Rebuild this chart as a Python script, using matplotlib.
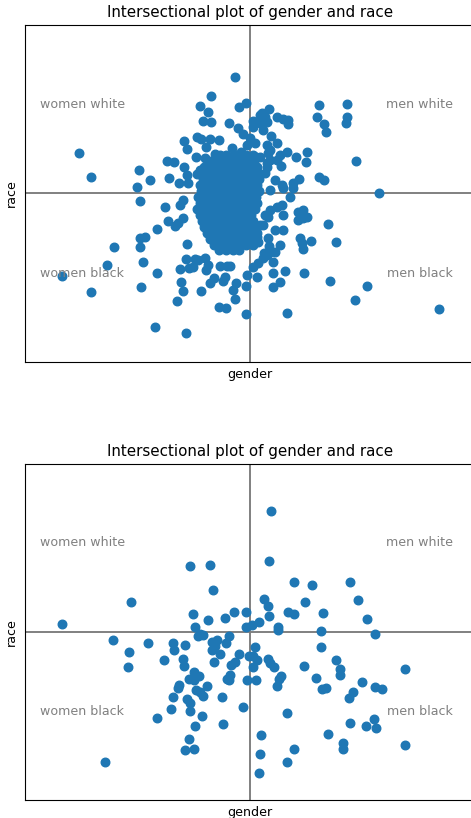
import numpy as np
import matplotlib.pyplot as plt

# first sample: (gender score, race score)
outer_1 = [
    (-15, 116), (-39, 97), (-50, 87), (-42, 81), (-47, 72), (-39, 71), (-21, 70),
    (-11, 86), (-4, 90), (-12, 65), (-7, 59), (-171, 40), (-159, 16), (-111, 23),
    (-100, 13), (-113, 6), (-83, 32), (-76, 31), (-66, 26), (-81, 15), (-66, 52),
    (-63, 44), (-53, 56), (-49, 54), (-44, 46), (-40, 54), (-31, 53), (-18, 45),
    (-9, 41), (-54, 36), (-45, 35), (-35, 39), (-63, 18), (-53, 19), (-71, 10),
    (-50, 23), (-62, 10), (-3, 48), (0, 55),
    (69, 88), (97, 89), (67, 76), (74, 69), (76, 61), (97, 76), (96, 70), (106, 32),
    (69, 16), (74, 13), (129, 0), (19, 84), (12, 80), (15, 76), (13, 71), (27, 76),
    (33, 74), (38, 73), (38, 69), (3, 72), (10, 78), (10, 70), (17, 71), (13, 63),
    (21, 57), (27, 50), (20, 43), (17, 48), (37, 41), (46, 36), (57, 41), (56, 31),
    (31, 27), (27, 33), (18, 40), (30, 38), (20, 33), (17, 26), (10, 36), (49, 14),
    (43, 10), (43, 5), (33, 5), (25, 13), (20, 3), (32, 8), (7, 26), (5, 50),
    (6, 36), (3, 66), (15, 20), (17, 30),
    (-110, -8), (-85, -14), (-82, -28), (-75, -33), (-72, -30), (-67, -25),
    (-93, -36), (-70, -12), (-67, -7), (-110, -45), (-105, -44), (-110, -54),
    (-136, -54), (-143, -72), (-188, -83), (-159, -99), (-107, -69), (-93, -80),
    (-109, -94), (-69, -89), (-67, -98), (-73, -108), (-95, -134), (-64, -140),
    (-70, -76), (-61, -75), (-57, -74), (-64, -66), (-55, -66), (-63, -51),
    (-49, -98), (-44, -77), (-42, -72), (-40, -90), (-36, -85), (-30, -73),
    (-23, -73), (-20, -73), (-25, -84), (-27, -88), (-14, -90), (-17, -97),
    (-15, -106), (-31, -114), (-24, -115), (-4, -93), (-4, -121), (-3, -82),
    (-52, -67), (-45, -65),
    (7, -84), (3, -74), (8, -70), (13, -65), (17, -62), (20, -59), (25, -59),
    (23, -69), (23, -80), (35, -78), (30, -89), (23, -94), (54, -80), (80, -88),
    (37, -120), (78, -31), (86, -49), (61, -48), (50, -45), (52, -50), (53, -56),
    (48, -27), (57, -24), (53, -17), (48, -19), (53, -25), (40, -4), (18, -45),
    (30, -52), (25, -37), (33, -37), (10, -32), (15, -22), (20, -17), (27, -14),
    (32, -12), (33, -22), (7, -44), (3, -52), (8, -49), (117, -93), (105, -107),
    (189, -116), (19, -53), (14, -60), (18, -24), (13, -32), (5, -47), (3, -30),
    (7, -40),
]

# dense core of the first sample, row by row (race score: gender scores)
core_rows_1 = {
    38: [-30, -24, -16, -10, -4, 3],
    32: [-40, -34, -27, -21, -14, -8, -2, 4],
    26: [-46, -40, -33, -27, -20, -14, -7, -1, 5],
    20: [-48, -42, -36, -29, -23, -16, -10, -4, 2, 8],
    14: [-47, -41, -35, -28, -22, -15, -9, -3, 3, 9],
    8: [-50, -44, -37, -31, -24, -18, -11, -5, 1, 7],
    2: [-49, -43, -36, -30, -23, -17, -10, -4, 2, 9],
    -4: [-52, -45, -39, -32, -26, -19, -13, -6, 0, 6],
    -10: [-50, -44, -37, -31, -24, -18, -11, -5, 1, 7],
    -16: [-53, -46, -40, -33, -27, -20, -14, -7, -1, 5],
    -22: [-50, -44, -37, -31, -24, -18, -11, -5, 1],
    -28: [-48, -42, -35, -29, -22, -16, -9, -3, 3],
    -34: [-46, -39, -33, -26, -20, -13, -7, -1, 4],
    -40: [-43, -37, -30, -24, -17, -11, -5, 1],
    -46: [-40, -34, -27, -21, -14, -8, -2],
    -52: [-36, -29, -23, -16, -10, -4],
    -57: [-31, -24, -17, -11],
}

# second sample
points_2 = [
    (21, 121), (19, 71), (-60, 66), (-40, 67), (-37, 42), (-119, 30), (-188, 8),
    (-57, 18), (-55, 5), (-42, 12), (-25, 14), (-16, 20), (-4, 20), (-4, 5),
    (2, 7), (9, 10), (19, 16), (18, 26), (14, 33), (28, 5), (38, 20), (44, 18),
    (44, 50), (62, 47), (55, 30), (73, 19), (71, 1), (100, 50), (108, 32),
    (117, 13), (125, -2), (-50, -2), (-21, -4), (-52, -4), (-47, -3), (28, 2),
    (-137, -8), (-121, -20), (-122, -35), (-102, -11), (-86, -28), (-77, -11),
    (-76, -18), (-65, -13), (-67, -27), (-66, -34), (-56, -40), (-51, -44),
    (-61, -47), (-56, -48), (-71, -53), (-72, -56), (-43, -54), (-54, -58),
    (-50, -60), (-47, -64), (-77, -65), (-63, -67), (-60, -71), (-79, -77),
    (-60, -79), (-93, -86), (-48, -84), (-55, -94), (-28, -65), (-27, -92),
    (-7, -75), (-61, -107), (-65, -118), (-56, -117), (-145, -130),
    (-38, -10), (-35, -14), (-38, -18), (-33, -8), (-24, -11), (-30, -22),
    (-36, -30), (-19, -33), (-15, -30), (-11, -22), (-20, -43), (-23, -47),
    (-21, -48), (-3, -48), (-1, -24), (3, -24), (7, -28), (3, -35), (5, -15),
    (6, -48), (18, -27), (20, -31), (24, -35), (31, -44), (29, -47), (27, -54),
    (54, -34), (66, -46), (71, -15), (86, -28), (90, -37), (90, -43), (72, -57),
    (76, -56), (103, -60), (99, -66), (112, -50), (125, -55), (132, -57),
    (155, -37), (37, -81), (11, -103), (10, -122), (9, -141), (44, -117),
    (37, -130), (78, -102), (93, -111), (93, -117), (100, -91), (116, -94),
    (124, -87), (126, -96), (155, -113),
]

pts_1 = list(outer_1)
for y, xs in core_rows_1.items():
    for x in xs:
        pts_1.append((x, y))
pts_1 = np.array(pts_1, dtype=float)
pts_2 = np.array(points_2, dtype=float)

quadrants = [("women white", 0.033, 0.765, "left"),
             ("men white", 0.951, 0.765, "right"),
             ("women black", 0.033, 0.264, "left"),
             ("men black", 0.951, 0.264, "right")]

fig = plt.figure(figsize=(4.71, 8.18), dpi=100)
ax1 = fig.add_axes([25 / 471, 456 / 818, 450 / 471, 337 / 818])
ax2 = fig.add_axes([25 / 471, 18 / 818, 450 / 471, 336 / 818])

for ax, pts, ylim in [(ax1, pts_1, (-169, 168)), (ax2, pts_2, (-168, 168))]:
    ax.scatter(pts[:, 0], pts[:, 1], s=38, color="#1f77b4", zorder=3)
    ax.axhline(0, color="gray", lw=1.4, zorder=1)
    ax.axvline(0, color="gray", lw=1.4, zorder=1)
    ax.set_xlim(-225, 225)
    ax.set_ylim(*ylim)
    ax.set_xticks([])
    ax.set_yticks([])
    ax.set_xlabel("gender", fontsize=9.1, labelpad=4)
    ax.set_ylabel("race", fontsize=9.1, labelpad=5)
    ax.set_title("Intersectional plot of gender and race", fontsize=10.9, pad=6)
    for label, x, y, ha in quadrants:
        ax.text(x, y, label, transform=ax.transAxes, ha=ha, va="center",
                color="gray", fontsize=9.1)

fig.savefig("out.png", dpi=100)
